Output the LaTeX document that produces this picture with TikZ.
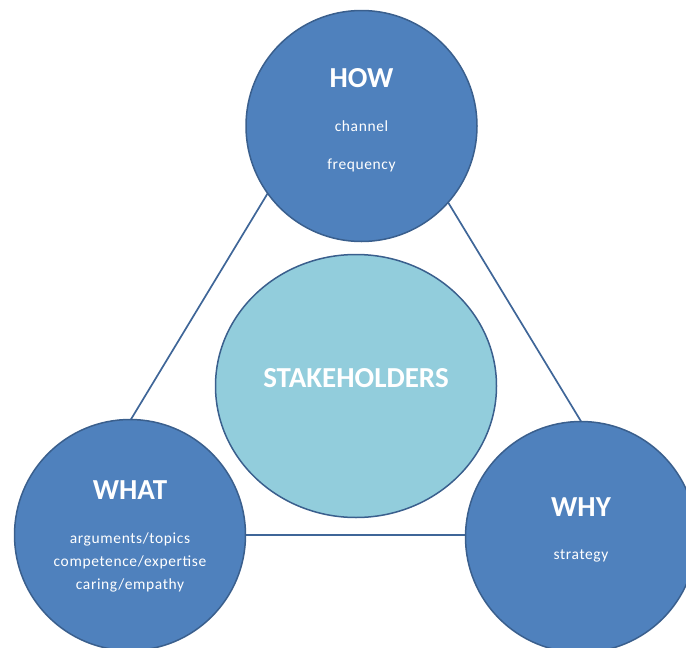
\documentclass[tikz,border=0pt]{standalone}
\usepackage{fontspec}
\setmainfont{Carlito}
\usetikzlibrary{shapes.geometric}
\definecolor{circfill}{HTML}{4F81BD}
\definecolor{circline}{HTML}{3A5F8D}
\definecolor{centfill}{HTML}{92CDDC}
\definecolor{triline}{HTML}{3F6698}
\tikzset{
  bigcirc/.style={circle, fill=circfill, draw=circline, line width=1.5pt, minimum size=231pt, inner sep=0pt},
  centcirc/.style={ellipse, fill=centfill, draw=circline, line width=1.5pt, minimum width=281pt, minimum height=263pt, inner sep=0pt},
  title/.style={anchor=base, text=white, font=\bfseries\fontsize{29}{31}\selectfont, inner sep=0pt},
  item/.style={anchor=base, text=white, font=\fontsize{15.5}{17}\selectfont\addfontfeatures{LetterSpace=4}, inner sep=0pt},
  tri/.style={draw=triline, line width=1.7pt}
}
\begin{document}
\begin{tikzpicture}[x=1pt, y=-1pt]
\useasboundingbox (0,0) rectangle (686,648);
% triangle behind
\coordinate (ta) at (355,49);
\coordinate (tl) at (61,535);
\coordinate (tr) at (650,535);
\draw[tri] (ta) -- (tl) -- (tr) -- cycle;
% circles
\node[bigcirc] (how) at (361.5,126) {};
\node[bigcirc] (what) at (130,535) {};
\node[bigcirc] (why) at (581,537) {};
\node[centcirc] (stake) at (356,386) {};
% texts
\node[title] (howt) at (361.5,87) {HOW};
\node[item] (howa) at (361.5,131.5) {channel};
\node[item] (howb) at (361.5,169) {frequency};
\node[title] (whatt) at (130,499) {WHAT};
\node[item] (whata) at (130,543) {arguments/topics};
\node[item] (whatb) at (130,566.5) {competence/expertise};
\node[item] (whatc) at (130,589) {caring/empathy};
\node[title] (whyt) at (581,516) {WHY};
\node[item] (whya) at (581,559) {strategy};
\node[title] (staket) at (356,387) {STAKEHOLDERS};
\end{tikzpicture}
\end{document}
